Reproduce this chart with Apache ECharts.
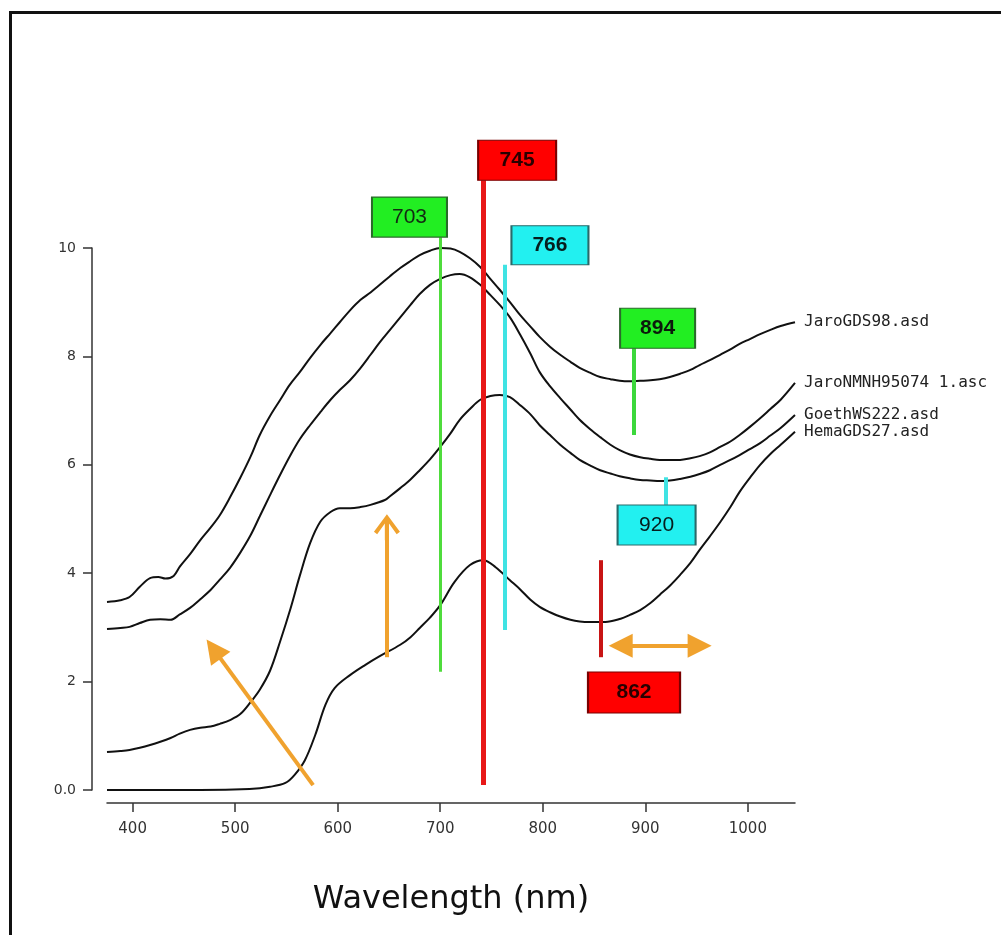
<!DOCTYPE html>
<html>
<head>
<meta charset="utf-8">
<script src="https://cdn.jsdelivr.net/npm/echarts@6/dist/echarts.min.js"></script>
<style>
html,body{margin:0;padding:0;background:#fff;}
#chart{width:1001px;height:935px;}
</style>
</head>
<body>
<div id="chart"></div>
<script>
// ---- data (wavelength nm, reflectance) ----
const seriesNames = ['JaroGDS98.asd', 'JaroNMNH95074 1.asc', 'GoethWS222.asd', 'HemaGDS27.asd'];
const jaroGDS98 = [[375,3.47],[388,3.50],[397,3.56],[407,3.75],[417,3.91],[425,3.93],[432,3.90],[440,3.95],[446,4.12],[456,4.35],[466,4.61],[476,4.84],[485,5.07],[495,5.40],[505,5.76],[515,6.15],[524,6.55],[534,6.90],[544,7.20],[553,7.47],[563,7.71],[573,7.97],[583,8.21],[593,8.43],[602,8.63],[612,8.85],[622,9.04],[632,9.18],[641,9.32],[651,9.48],[661,9.63],[671,9.76],[680,9.87],[690,9.95],[700,10.0],[710,9.99],[719,9.93],[729,9.81],[739,9.65],[748,9.45],[758,9.23],[768,9.00],[778,8.76],[788,8.55],[797,8.36],[807,8.18],[817,8.03],[827,7.90],[836,7.79],[846,7.70],[856,7.62],[866,7.58],[875,7.55],[885,7.54],[895,7.55],[905,7.56],[914,7.58],[924,7.62],[934,7.68],[944,7.75],[953,7.84],[963,7.93],[973,8.03],[983,8.13],[992,8.23],[1002,8.32],[1012,8.41],[1022,8.49],[1032,8.56],[1046,8.63]];
const jaroNMNH = [[375,2.97],[388,2.99],[397,3.01],[407,3.08],[417,3.14],[427,3.15],[437,3.14],[446,3.24],[456,3.36],[466,3.52],[476,3.69],[485,3.88],[495,4.10],[505,4.38],[515,4.70],[524,5.05],[534,5.44],[544,5.82],[554,6.18],[563,6.47],[573,6.73],[583,6.97],[593,7.20],[602,7.38],[612,7.56],[622,7.78],[632,8.03],[641,8.26],[651,8.49],[661,8.72],[671,8.95],[680,9.15],[690,9.32],[700,9.43],[710,9.50],[719,9.52],[729,9.46],[739,9.32],[749,9.13],[758,8.95],[768,8.72],[778,8.40],[788,8.05],[797,7.71],[807,7.45],[817,7.23],[827,7.02],[836,6.83],[846,6.66],[856,6.51],[866,6.37],[875,6.27],[885,6.19],[895,6.14],[905,6.11],[914,6.09],[924,6.09],[934,6.09],[944,6.12],[953,6.16],[963,6.23],[973,6.33],[983,6.43],[992,6.55],[1002,6.70],[1012,6.86],[1022,7.03],[1032,7.20],[1046,7.51]];
const goethWS222 = [[375,0.70],[388,0.72],[397,0.74],[407,0.78],[417,0.83],[427,0.89],[437,0.96],[446,1.04],[456,1.11],[466,1.15],[476,1.17],[485,1.22],[495,1.29],[505,1.40],[515,1.62],[524,1.85],[534,2.20],[544,2.75],[554,3.35],[563,3.95],[573,4.55],[583,4.95],[593,5.13],[602,5.20],[612,5.20],[622,5.22],[632,5.26],[646,5.35],[651,5.42],[661,5.57],[671,5.73],[680,5.90],[690,6.10],[700,6.33],[710,6.58],[719,6.83],[729,7.03],[739,7.20],[749,7.27],[758,7.29],[768,7.25],[778,7.10],[788,6.93],[797,6.73],[807,6.55],[817,6.37],[827,6.22],[836,6.09],[846,5.99],[856,5.90],[866,5.84],[875,5.79],[885,5.75],[895,5.72],[905,5.71],[914,5.70],[924,5.71],[934,5.74],[944,5.78],[953,5.83],[963,5.90],[973,6.00],[983,6.09],[992,6.18],[1002,6.29],[1012,6.40],[1022,6.54],[1032,6.68],[1046,6.92]];
const hemaGDS27 = [[375,0],[417,0],[466,0],[514,0.02],[534,0.06],[549,0.13],[558,0.28],[568,0.55],[578,1.01],[588,1.57],[597,1.88],[612,2.12],[627,2.31],[641,2.47],[661,2.68],[671,2.82],[680,2.99],[690,3.18],[700,3.41],[714,3.84],[729,4.15],[742,4.24],[754,4.11],[768,3.87],[778,3.70],[788,3.51],[797,3.38],[807,3.28],[817,3.20],[827,3.14],[836,3.11],[846,3.10],[861,3.10],[876,3.16],[885,3.23],[895,3.32],[905,3.45],[914,3.60],[924,3.77],[934,3.97],[944,4.19],[953,4.43],[963,4.68],[973,4.94],[983,5.22],[992,5.50],[1002,5.76],[1012,6.00],[1022,6.20],[1032,6.37],[1046,6.61]];

const xTickValues = [400, 500, 600, 700, 800, 900, 1000];
const yTickValues = [0, 2, 4, 6, 8, 10];
const xAxisTitle = 'Wavelength (nm)';

// annotation bars: wavelength, bottom value, top value
const barWl   = [700, 742, 763, 889, 920, 857];
const barLow  = [2.18, 0.09, 2.95, 6.55, 5.26, 2.45];
const barHigh = [10.2, 11.25, 9.69, 8.15, 5.77, 4.24];

// annotation boxes: text, centre wavelength, centre value
const boxText = ['703', '745', '766', '894', '920', '862'];
const boxWl   = [670, 775, 807, 912, 911, 889];
const boxVal  = [10.57, 11.62, 10.05, 8.52, 4.89, 1.80];

// arrows: [start, end] in data space
const arrowDiag   = [[576, 0.09], [479, 2.60]];
const arrowUp     = [[648, 2.45], [648, 4.85]];
const arrowDouble = [[876, 2.66], [953, 2.66]];

// ---- styles ----
const barColors = ['#4fdc3c', '#e81818', '#3fe3e3', '#3cd83c', '#3fe3e3', '#c81414'];
const barWidths = [3, 5, 4, 4, 4, 4];
const boxFill   = ['#22ee22', '#ff0000', '#22f0f0', '#22ee22', '#22f0f0', '#ff0000'];
const boxBorder = ['#2a6a2a', '#7a0000', '#2a6a6a', '#2a6a2a', '#2a6a6a', '#7a0000'];
const boxBold   = [false, true, true, true, false, true];
const boxTextColor = ['#132a13', '#2a0000', '#061e1e', '#0c1a0c', '#061e1e', '#2a0000'];
const boxSize   = [[75, 40], [78, 40], [77, 39], [75, 40], [78, 40], [92, 41]];
const orange = '#f0a22e';

const chevron = 'path://M10,0 L20,15 L17.5,17 L11.6,8 L11.6,22 L8.4,22 L8.4,8 L2.5,17 L0,15 Z';

const chart = echarts.init(document.getElementById('chart'), null, {renderer: 'canvas'});

const curves = [jaroGDS98, jaroNMNH, goethWS222, hemaGDS27].map((d, i) => ({
  name: seriesNames[i],
  type: 'line',
  data: d,
  smooth: 0.35,
  showSymbol: false,
  symbol: 'none',
  z: 3,
  lineStyle: {color: '#111', width: 2},
  endLabel: {
    show: true,
    formatter: '{a}',
    fontFamily: 'DejaVu Sans Mono',
    fontSize: 16,
    color: '#222',
    distance: 9
  },
  emphasis: {disabled: true},
  silent: true
}));

const option = {
  backgroundColor: '#fff',
  animation: false,
  graphic: [{
    type: 'rect',
    left: 8, top: 10,
    shape: {width: 1100, height: 1000},
    style: {fill: 'none', stroke: '#111', lineWidth: 3},
    z: -10, silent: true
  }],
  grid: {left: 107, right: 206, top: 248, bottom: 145, containLabel: false},
  xAxis: {
    type: 'value',
    min: 375,
    max: 1046,
    offset: 13,
    splitLine: {show: false},
    axisLine: {onZero: false, lineStyle: {color: '#333', width: 1.5}},
    axisTick: {show: true, length: 9, customValues: xTickValues, lineStyle: {color: '#333', width: 1.5}},
    axisLabel: {
      customValues: xTickValues, margin: 19,
      fontFamily: 'DejaVu Sans', fontSize: 15, color: '#333',
      formatter: v => String(v)
    },
    name: xAxisTitle,
    nameLocation: 'middle',
    nameGap: 81,
    nameTextStyle: {fontFamily: 'DejaVu Sans', fontSize: 32, color: '#111'}
  },
  yAxis: {
    type: 'value',
    min: 0,
    max: 10,
    offset: 15,
    splitLine: {show: false},
    axisLine: {show: true, onZero: false, lineStyle: {color: '#333', width: 1.5}},
    axisTick: {show: true, length: 9, customValues: yTickValues, lineStyle: {color: '#333', width: 1.5}},
    axisLabel: {
      customValues: yTickValues,
      margin: 16,
      fontFamily: 'DejaVu Sans',
      fontSize: 14,
      color: '#333',
      formatter: v => (v === 0 ? '0.0' : String(v))
    }
  },
  series: curves.concat([
    {
      name: 'bars',
      type: 'lines',
      coordinateSystem: 'cartesian2d',
      clip: false,
      z: 5,
      silent: true,
      symbol: 'none',
      data: barWl.map((w, i) => ({
        coords: [[w, barLow[i]], [w, barHigh[i]]],
        lineStyle: {color: barColors[i], width: barWidths[i], opacity: 1}
      }))
    },
    {
      name: 'arrowDiag',
      type: 'lines',
      coordinateSystem: 'cartesian2d',
      clip: false,
      z: 6,
      silent: true,
      symbol: ['none', 'triangle'],
      symbolSize: 24,
      lineStyle: {color: orange, width: 4, opacity: 1},
      data: [{coords: arrowDiag}]
    },
    {
      name: 'arrowUp',
      type: 'lines',
      coordinateSystem: 'cartesian2d',
      clip: false,
      z: 6,
      silent: true,
      symbol: ['none', chevron],
      symbolSize: 26,
      lineStyle: {color: orange, width: 4, opacity: 1},
      data: [{coords: arrowUp}]
    },
    {
      name: 'arrowDouble',
      type: 'lines',
      coordinateSystem: 'cartesian2d',
      clip: false,
      z: 6,
      silent: true,
      symbol: ['triangle', 'triangle'],
      symbolSize: 24,
      lineStyle: {color: orange, width: 4, opacity: 1},
      data: [{coords: arrowDouble}]
    },
    {
      name: 'boxes',
      type: 'scatter',
      clip: false,
      z: 7,
      silent: true,
      symbol: 'rect',
      data: boxText.map((t, i) => ({
        value: [boxWl[i], boxVal[i]],
        name: t,
        symbolSize: boxSize[i],
        itemStyle: {color: boxFill[i], borderColor: boxBorder[i], borderWidth: 1.5, opacity: 1},
        label: {
          show: true,
          position: 'inside',
          formatter: t,
          fontFamily: 'Liberation Sans',
          fontSize: 21,
          fontWeight: boxBold[i] ? 'bold' : 'normal',
          color: boxTextColor[i]
        }
      }))
    }
  ])
};
chart.setOption(option);
</script>
</body>
</html>
